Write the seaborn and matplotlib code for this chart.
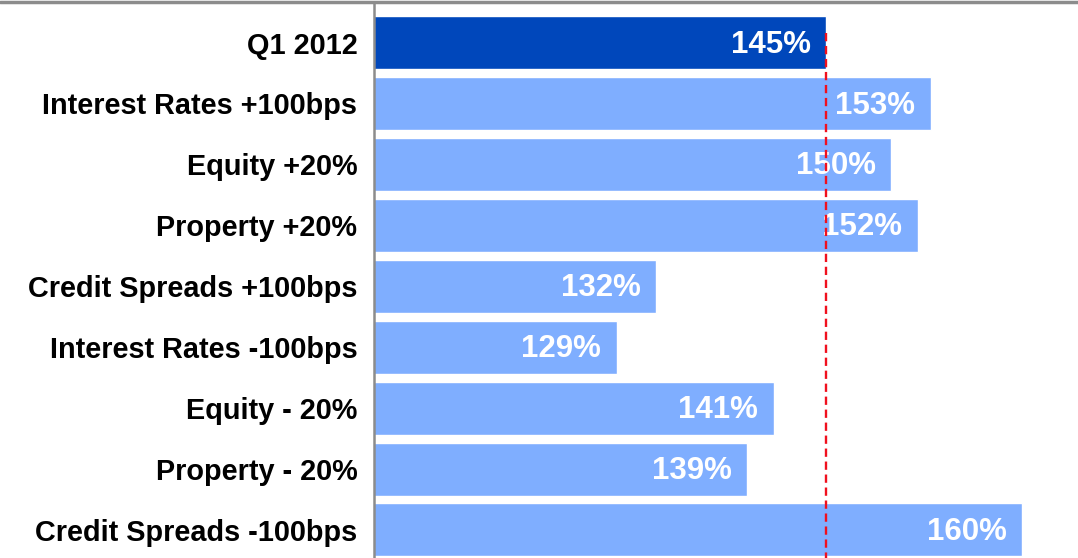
import matplotlib
matplotlib.use("Agg")
import matplotlib.pyplot as plt
from matplotlib.lines import Line2D
import seaborn as sns

# Solvency ratio under stress scenarios
scenarios = ["Q1 2012", "Interest Rates +100bps", "Equity +20%", "Property +20%",
             "Credit Spreads +100bps", "Interest Rates -100bps", "Equity - 20%",
             "Property - 20%", "Credit Spreads -100bps"]
ratios = [145, 153, 150, 152, 132, 129, 141, 139, 160]
base_ratio = 145

dark_blue = "#0047BB"
light_blue = "#7FAEFF"
colors = [dark_blue] + [light_blue] * (len(scenarios) - 1)

sns.set_style("white")
plt.rcParams["font.family"] = ["Liberation Sans", "DejaVu Sans"]

fig = plt.figure(figsize=(10.78, 5.58), dpi=100)
ax = fig.add_axes([374 / 1078, 0.0, 704 / 1078, 1 - 4 / 558])

sns.barplot(x=ratios, y=scenarios, hue=scenarios, palette=colors, legend=False,
            orient="h", width=0.87, saturation=1, ax=ax)

ax.set_xlim(110.46, 164.26)
ax.set_ylim(8.46, -0.632)

# value labels inside the bar ends
for i, v in enumerate(ratios):
    ax.annotate(f"{v}%", xy=(v, i), xytext=(-11, -1.5), textcoords="offset points",
                ha="right", va="center", color="white", fontsize=22.5, fontweight="bold")

# reference line at current ratio
ax.vlines(base_ratio, -0.16, 9, colors="#F0101E", linestyles=(0, (3.5, 2)), linewidth=1.7,
          zorder=5)

ax.set_xticks([])
ax.set_xlabel("")
ax.set_ylabel("")
ax.tick_params(axis="y", length=0, pad=12)
for lbl in ax.get_yticklabels():
    lbl.set_fontsize(20.8)
    lbl.set_fontweight("bold")
    lbl.set_color("black")
    lbl.set_va("center_baseline")

for side in ["top", "right", "bottom"]:
    ax.spines[side].set_visible(False)
ax.spines["left"].set_color("#8C8C8C")
ax.spines["left"].set_linewidth(1.8)

fig.add_artist(Line2D([0, 1], [1 - 1.5 / 558, 1 - 1.5 / 558], transform=fig.transFigure,
                      color="#8C8C8C", linewidth=2.5))

fig.savefig("out.png", dpi=100)
